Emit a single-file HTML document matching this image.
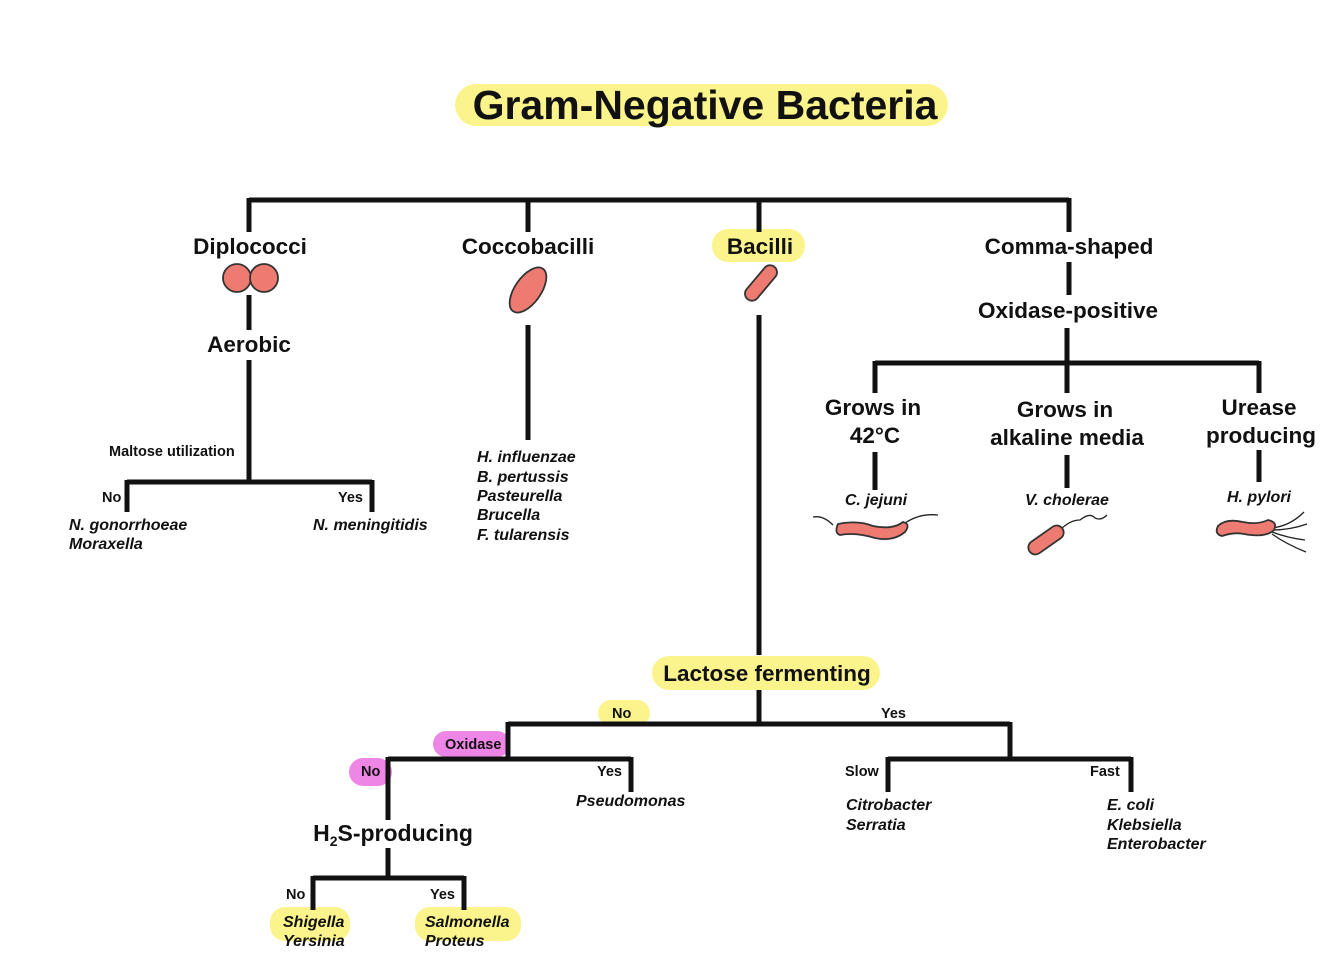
<!DOCTYPE html>
<html><head><meta charset="utf-8"><style>
html,body{margin:0;padding:0;background:#fff}
svg{display:block}
text{font-family:"Liberation Sans",sans-serif;font-weight:bold;fill:#111}
.l{font-size:22.5px;text-anchor:middle}
.s{font-size:14.5px}
.i{font-size:16px;font-style:italic}
.b{fill:#ee7b72;stroke:#333;stroke-width:1.8}
.f{fill:none;stroke:#222;stroke-width:1.3}
</style></head><body>
<svg width="1334" height="976" viewBox="0 0 1334 976">
<g fill="#fbf48c">
<rect x="455" y="84" width="493" height="42" rx="21"/>
<rect x="712" y="229" width="93" height="33" rx="16"/>
<rect x="652" y="656" width="228" height="34" rx="17"/>
<rect x="598" y="700" width="52" height="26" rx="13"/>
<rect x="270" y="907" width="80" height="34" rx="15"/>
<rect x="415" y="907" width="106" height="34" rx="15"/>
</g>
<g fill="#ee86e6">
<rect x="433" y="731" width="77" height="26" rx="13"/>
<rect x="349" y="758" width="43" height="28" rx="14"/>
</g>
<g stroke="#111" stroke-width="5" fill="none">
<path d="M249 200H1069M249 198V232M528 198V232M759 198V232M1069 198V232"/>
<path d="M249 295V330M249 360V482M127 482H372M127 480V512M372 480V512"/>
<path d="M528 325V440"/>
<path d="M759 315V655M759 690V724M508 724H1010M1010 722V759M888 759H1131M888 757V792M1131 757V792"/>
<path d="M508 722V759M388 759H631M631 757V792M388 757V820M388 848V878M313 878H464M313 876V910M464 876V910"/>
<path d="M1069 262V295M1067 328V363M875 363H1259M875 361V393M1067 361V393M1259 361V393"/>
<path d="M875 452V490M1067 455V488M1259 450V482"/>
</g>
<text x="705" y="119" style="font-size:41px;text-anchor:middle">Gram-Negative Bacteria</text>
<text class="l" x="250" y="254">Diplococci</text>
<text class="l" x="528" y="254">Coccobacilli</text>
<text class="l" x="760" y="254">Bacilli</text>
<text class="l" x="1069" y="254">Comma-shaped</text>
<text class="l" x="249" y="352">Aerobic</text>
<text class="l" x="1068" y="318">Oxidase-positive</text>
<text class="l" x="873" y="415">Grows in</text><text class="l" x="875" y="443">42°C</text>
<text class="l" x="1065" y="417">Grows in</text><text class="l" x="1067" y="445">alkaline media</text>
<text class="l" x="1259" y="415">Urease</text><text class="l" x="1261" y="443">producing</text>
<text class="l" x="767" y="681">Lactose fermenting</text>
<text class="l" x="393" y="841" style="font-size:23px">H<tspan style="font-size:14px" dy="5">2</tspan><tspan dy="-5">S-producing</tspan></text>
<text class="s" x="109" y="456">Maltose utilization</text>
<text class="s" x="102" y="502">No</text><text class="s" x="338" y="502">Yes</text>
<text class="s" x="612" y="718">No</text><text class="s" x="881" y="718">Yes</text>
<text class="s" x="445" y="749">Oxidase</text>
<text class="s" x="361" y="776">No</text><text class="s" x="597" y="776">Yes</text>
<text class="s" x="845" y="776">Slow</text><text class="s" x="1090" y="776">Fast</text>
<text class="s" x="286" y="899">No</text><text class="s" x="430" y="899">Yes</text>
<g>
<text class="i" x="69" y="530">N. gonorrhoeae</text><text class="i" x="69" y="549">Moraxella</text>
<text class="i" x="313" y="530">N. meningitidis</text>
<text class="i" x="477" y="462">H. influenzae</text><text class="i" x="477" y="482">B. pertussis</text><text class="i" x="477" y="501">Pasteurella</text><text class="i" x="477" y="520">Brucella</text><text class="i" x="477" y="540">F. tularensis</text>
<text class="i" x="576" y="806">Pseudomonas</text>
<text class="i" x="846" y="810">Citrobacter</text><text class="i" x="846" y="830">Serratia</text>
<text class="i" x="1107" y="810">E. coli</text><text class="i" x="1107" y="830">Klebsiella</text><text class="i" x="1107" y="849">Enterobacter</text>
<text class="i" x="283" y="927">Shigella</text><text class="i" x="283" y="946">Yersinia</text>
<text class="i" x="425" y="927">Salmonella</text><text class="i" x="425" y="946">Proteus</text>
<text class="i" x="876" y="505" text-anchor="middle">C. jejuni</text>
<text class="i" x="1067" y="505" text-anchor="middle">V. cholerae</text>
<text class="i" x="1259" y="502" text-anchor="middle">H. pylori</text>
</g>
<circle class="b" cx="237" cy="278" r="14"/><circle class="b" cx="264" cy="278" r="14"/>
<ellipse class="b" cx="528" cy="290" rx="13" ry="26" transform="rotate(35 528 290)"/>
<rect class="b" x="740" y="276" width="42" height="14" rx="7" transform="rotate(-50 761 283)"/>
<path class="f" d="M813 517q10 -2 20 8M905 523q15 -10 33 -8"/>
<path class="b" d="M838 524q20 -4 35 2q20 4 30 -4q8 2 2 10q-12 10 -30 6q-20 -6 -35 -3q-6 -2 -2 -11z"/>
<path class="f" d="M1060 530q10 -10 20 -10q10 -8 15 -2q6 3 12 -3"/>
<rect class="b" x="1026" y="533" width="40" height="14" rx="7" transform="rotate(-35 1046 540)"/>
<path class="f" d="M1272 528q18 -2 32 -16M1272 530q18 0 35 -6M1272 532q16 6 33 8M1272 534q14 10 34 18"/>
<path class="b" d="M1218 526q8 -8 25 -4q15 3 25 -2q10 2 6 10q-8 8 -30 4q-10 -2 -22 2q-8 -2 -4 -10z"/>
</svg>
</body></html>
